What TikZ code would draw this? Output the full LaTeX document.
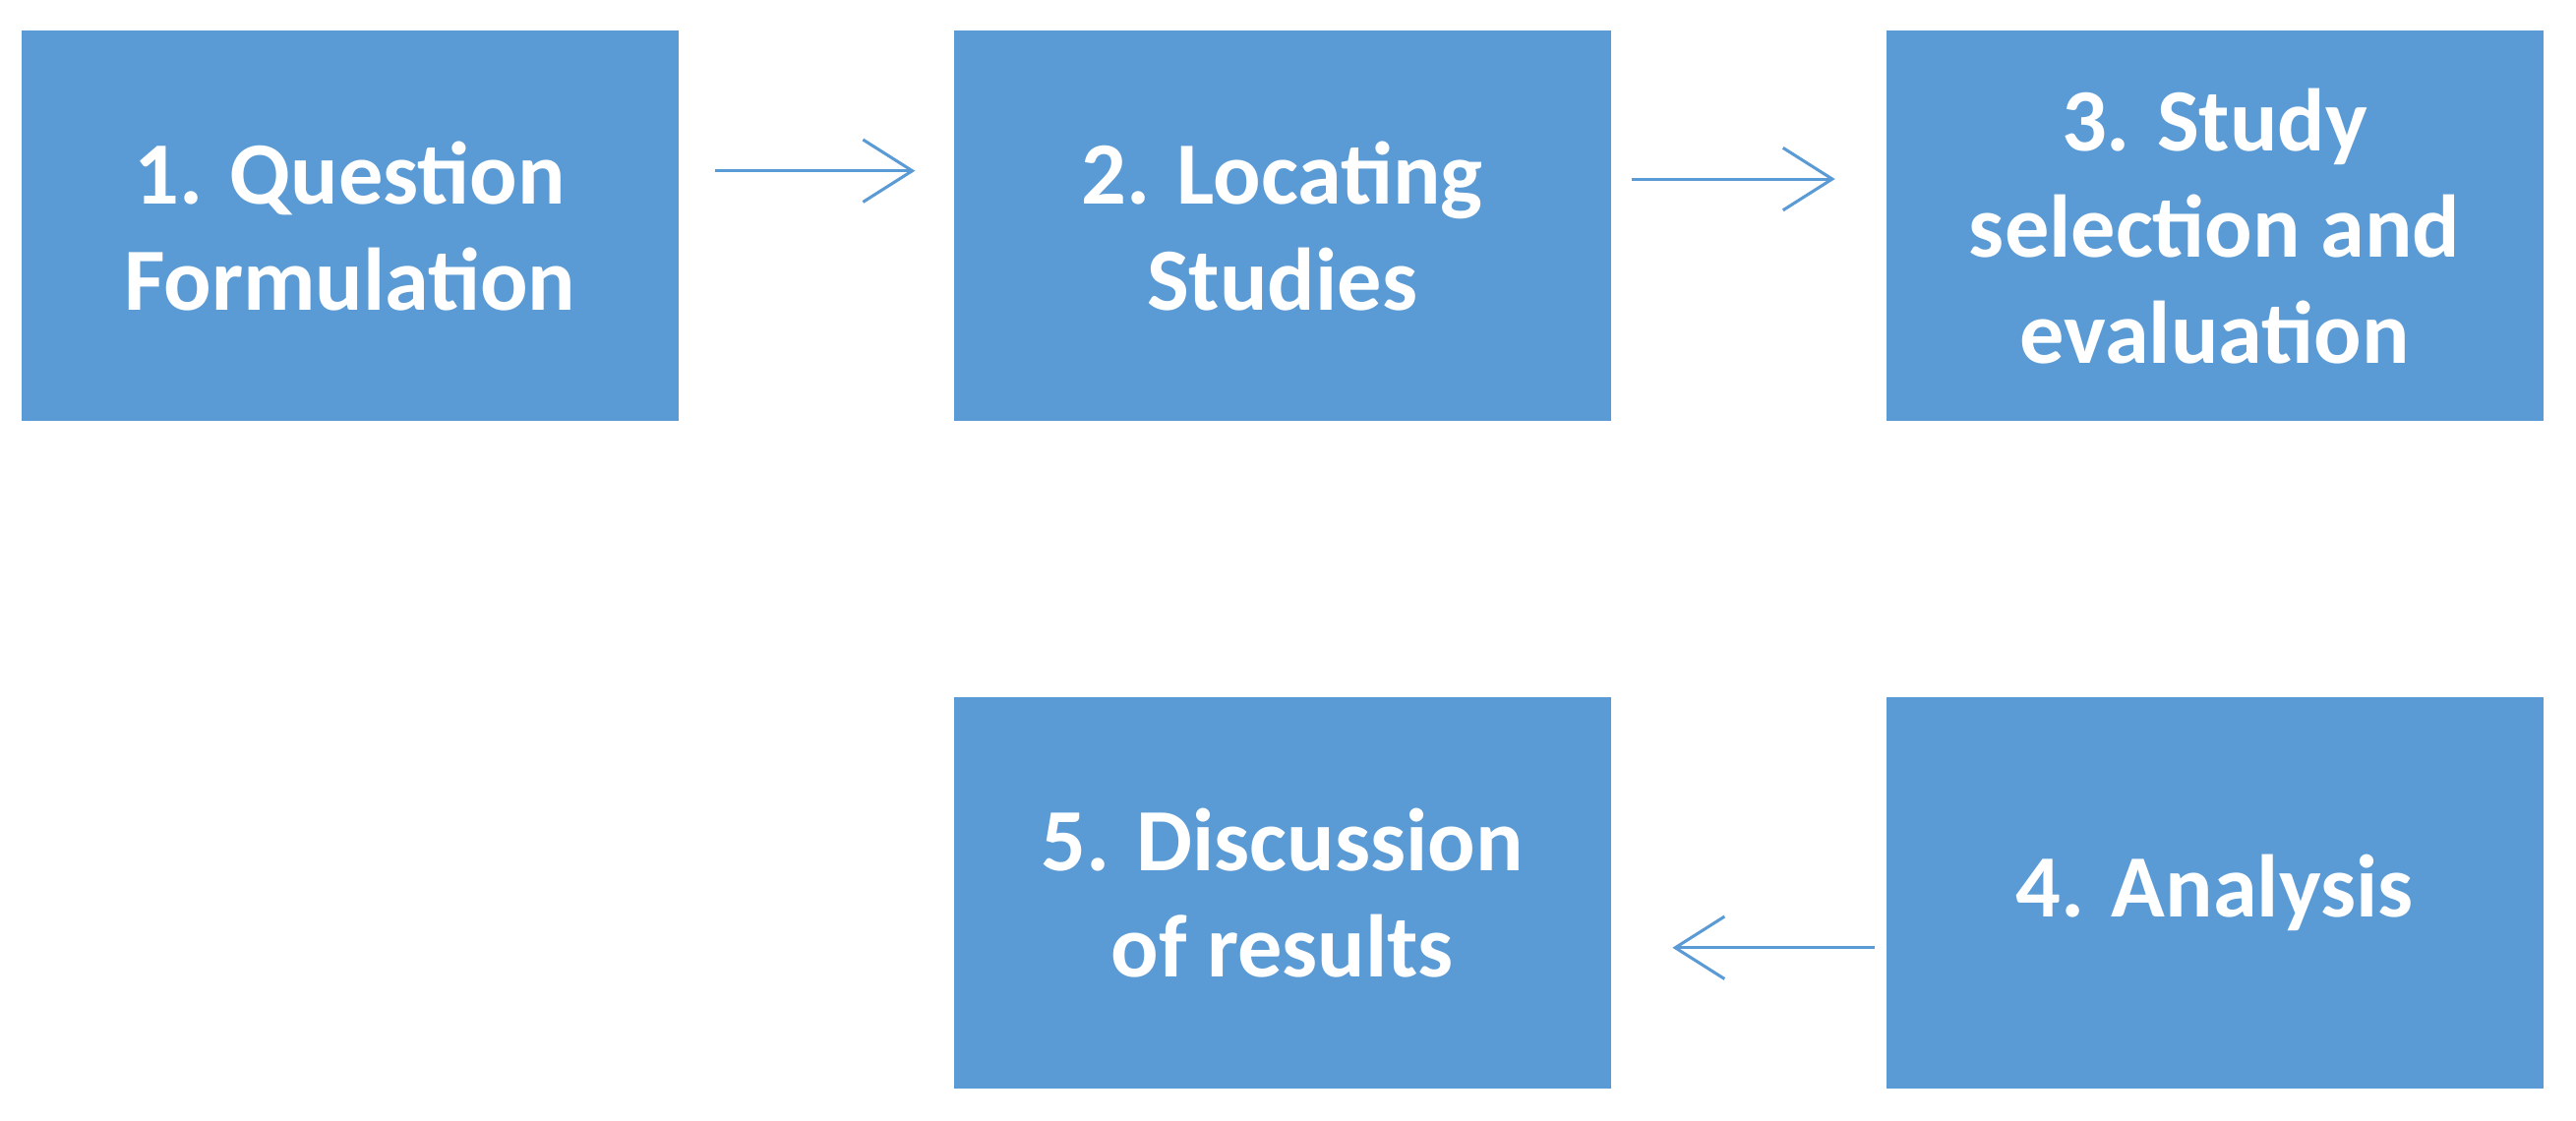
\documentclass[tikz,border=0pt]{standalone}
\usepackage{fontspec}
\setmainfont{Carlito}
\usetikzlibrary{arrows.meta}
\definecolor{box}{HTML}{5B9BD5}
\begin{document}
\begin{tikzpicture}[x=0.05cm,y=-0.05cm,
  bx/.style={fill=box,draw=none,minimum width=20cm,minimum height=11.9cm,inner sep=0pt,
    text=white,font=\fontsize{77}{92}\selectfont\bfseries,align=center},
  ar/.style={draw=box,line width=2.6pt,-{Straight Barb[length=1.5cm,width=1.9cm,line width=2.6pt]}}]
\useasboundingbox[fill=white] (0,0) rectangle (1568,682);
\node[bx] (b1) at (213,137.5) {1. Question\\Formulation};
\node[bx] (b2) at (780.5,137.5) {2. Locating\\Studies};
\node[bx] (b3) at (1348,137.5) {3. Study\\selection and\\evaluation};
\node[bx] (b5) at (780.5,543.5) {5. Discussion\\of results};
\node[bx] (b4) at (1348,543.5) {4. Analysis};
\coordinate (a1s) at (435,104); \coordinate (a1e) at (557,104);
\coordinate (a2s) at (993,109); \coordinate (a2e) at (1117,109);
\coordinate (a3s) at (1141,577); \coordinate (a3e) at (1018,577);
\draw[ar] (a1s) -- (a1e);
\draw[ar] (a2s) -- (a2e);
\draw[ar] (a3s) -- (a3e);
\end{tikzpicture}
\end{document}
